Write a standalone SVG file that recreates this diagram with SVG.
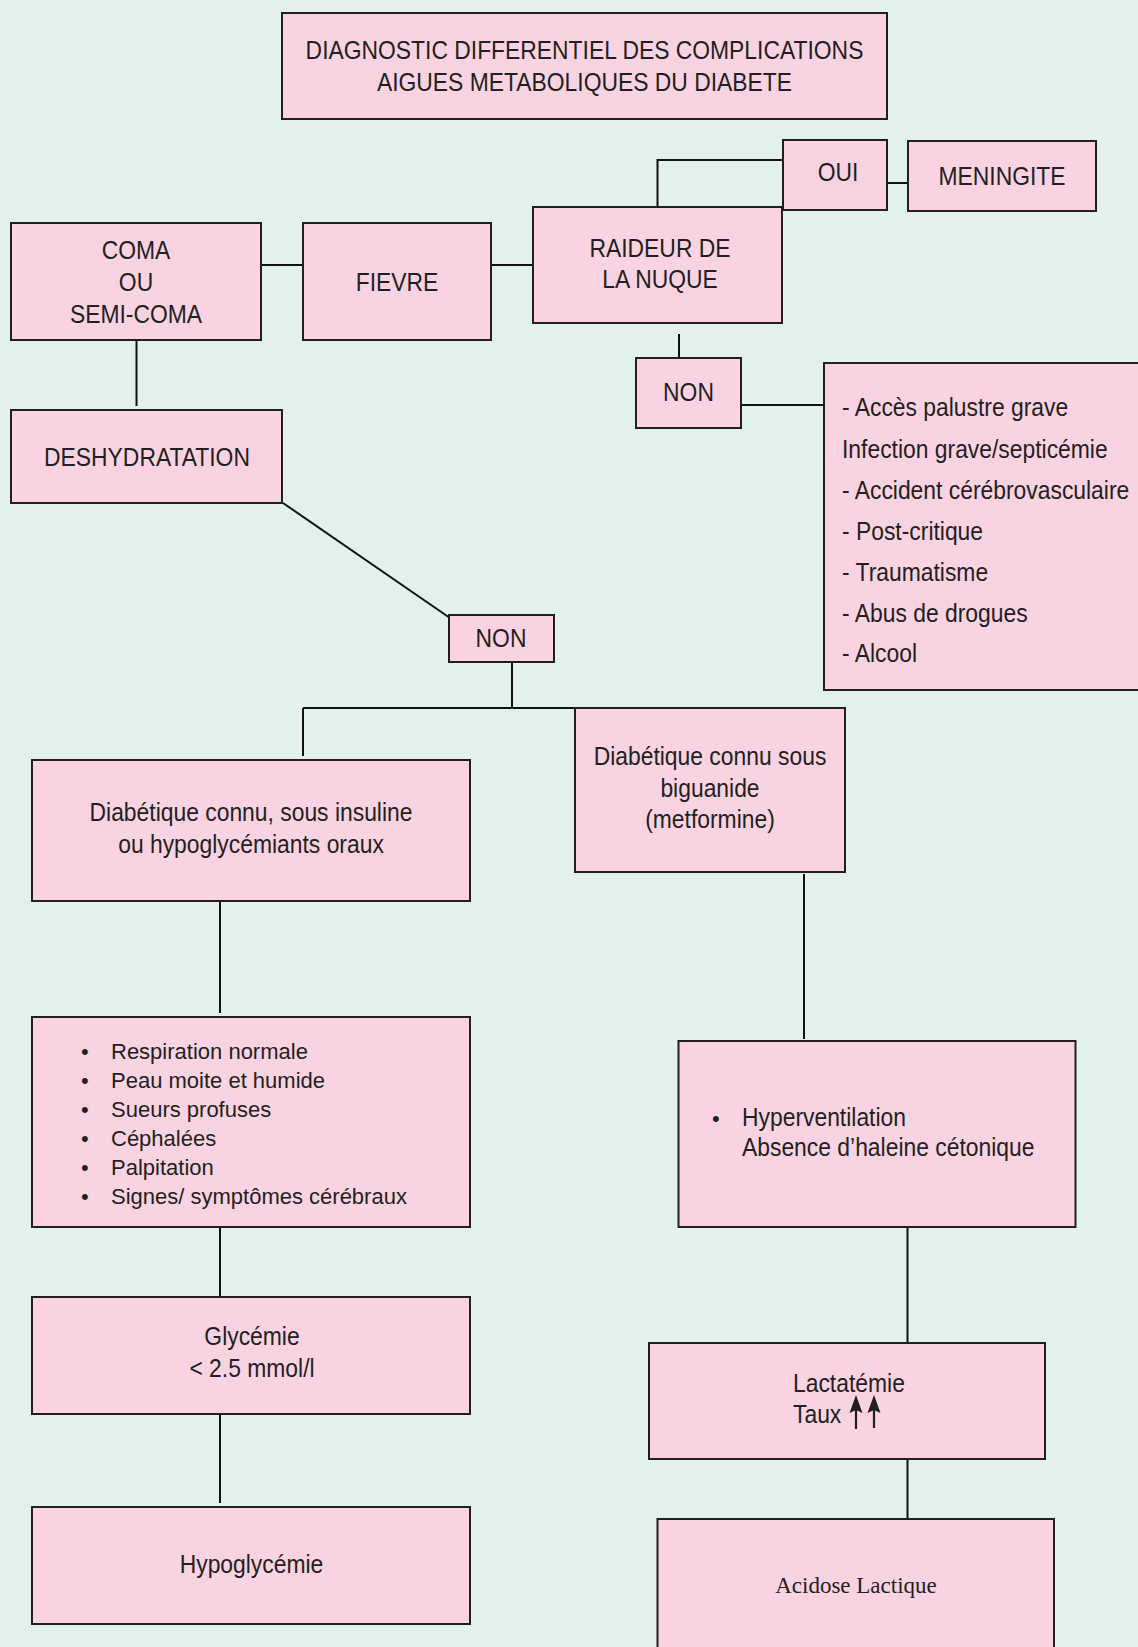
<svg xmlns="http://www.w3.org/2000/svg" width="1138" height="1647" viewBox="0 0 1138 1647">
<style>
.bg{fill:#e2f1ea}
.box{fill:#f9d3e2;stroke:#231f20;stroke-width:2}
.ln{stroke:#111;stroke-width:2;fill:none}
.t{font-family:"Liberation Sans",Arial,Helvetica,sans-serif;font-size:25px;fill:#231f20}
.s{font-family:"Liberation Sans",Arial,Helvetica,sans-serif;font-size:22px;fill:#231f20}
.r{font-family:"Liberation Serif","Times New Roman",serif;font-size:23px;fill:#231f20}
.m{text-anchor:middle}
</style>
<rect class="bg" x="0" y="0" width="1138" height="1647"/>

<g id="connectors">
<path class="ln" d="M261 265H303"/>
<path class="ln" d="M491 265H533"/>
<path class="ln" d="M657.5 207V160H783"/>
<path class="ln" d="M887 183H908"/>
<path class="ln" d="M679 334V358"/>
<path class="ln" d="M741 405H824"/>
<path class="ln" d="M136.5 340V406"/>
<path class="ln" d="M283 503L450 618"/>
<path class="ln" d="M512 662V708"/>
<path class="ln" d="M303 708H575"/>
<path class="ln" d="M303 708V756"/>
<path class="ln" d="M220 896V1013"/>
<path class="ln" d="M804 874V1039"/>
<path class="ln" d="M220 1227V1297"/>
<path class="ln" d="M220 1409V1503"/>
<path class="ln" d="M907.5 1227V1343"/>
<path class="ln" d="M907.5 1459V1519"/>
</g>

<g id="title">
<rect class="box" x="282" y="13" width="605" height="106"/>
<text class="t m" transform="translate(584.5 0) scale(0.915 1)"><tspan x="0" y="59">DIAGNOSTIC DIFFERENTIEL DES COMPLICATIONS</tspan><tspan x="0" y="91">AIGUES METABOLIQUES DU DIABETE</tspan></text>
</g>

<g id="oui">
<rect class="box" x="783" y="140" width="104" height="70"/>
<text class="t m" transform="translate(838 0) scale(0.915 1)"><tspan x="0" y="181">OUI</tspan></text>
</g>

<g id="meningite">
<rect class="box" x="908" y="141" width="188" height="70"/>
<text class="t m" transform="translate(1002 0) scale(0.915 1)"><tspan x="0" y="185">MENINGITE</tspan></text>
</g>

<g id="coma">
<rect class="box" x="11" y="223" width="250" height="117"/>
<text class="t m" transform="translate(136 0) scale(0.915 1)"><tspan x="0" y="259">COMA</tspan><tspan x="0" y="291.5">OU</tspan><tspan x="0" y="323.5">SEMI-COMA</tspan></text>
</g>

<g id="fievre">
<rect class="box" x="303" y="223" width="188" height="117"/>
<text class="t m" transform="translate(397 0) scale(0.915 1)"><tspan x="0" y="291.5">FIEVRE</tspan></text>
</g>

<g id="raideur">
<rect class="box" x="533" y="207" width="249" height="116"/>
<text class="t m" transform="translate(660 0) scale(0.915 1)"><tspan x="0" y="257">RAIDEUR DE</tspan><tspan x="0" y="288">LA NUQUE</tspan></text>
</g>

<g id="non1">
<rect class="box" x="636" y="358" width="105" height="70"/>
<text class="t m" transform="translate(688.5 0) scale(0.915 1)"><tspan x="0" y="401">NON</tspan></text>
</g>

<g id="causes">
<rect class="box" x="824" y="363" width="320" height="327"/>
<text class="t" transform="translate(842 0) scale(0.915 1)"><tspan x="0" y="416.5">- Accès palustre grave</tspan><tspan x="0" y="458">Infection grave/septicémie</tspan><tspan x="0" y="499">- Accident cérébrovasculaire</tspan><tspan x="0" y="540">- Post-critique</tspan><tspan x="0" y="581">- Traumatisme</tspan><tspan x="0" y="622">- Abus de drogues</tspan><tspan x="0" y="662">- Alcool</tspan></text>
</g>

<g id="deshydratation">
<rect class="box" x="11" y="410" width="271" height="93"/>
<text class="t m" transform="translate(147 0) scale(0.915 1)"><tspan x="0" y="466.5">DESHYDRATATION</tspan></text>
</g>

<g id="non2">
<rect class="box" x="449" y="615" width="105" height="47"/>
<text class="t m" transform="translate(501 0) scale(0.915 1)"><tspan x="0" y="647">NON</tspan></text>
</g>

<g id="diab-insuline">
<rect class="box" x="32" y="760" width="438" height="141"/>
<text class="t m" transform="translate(251 0) scale(0.915 1)"><tspan x="0" y="821.5">Diabétique connu, sous insuline</tspan><tspan x="0" y="853.5">ou hypoglycémiants oraux</tspan></text>
</g>

<g id="diab-biguanide">
<rect class="box" x="575" y="708" width="270" height="164"/>
<text class="t m" transform="translate(710 0) scale(0.915 1)"><tspan x="0" y="765">Diabétique connu sous</tspan><tspan x="0" y="797">biguanide</tspan><tspan x="0" y="828">(metformine)</tspan></text>
</g>

<g id="symptomes">
<rect class="box" x="32" y="1017" width="438" height="210"/>
<text class="s"><tspan x="81" y="1059">•</tspan><tspan x="81" y="1088">•</tspan><tspan x="81" y="1117">•</tspan><tspan x="81" y="1146">•</tspan><tspan x="81" y="1175">•</tspan><tspan x="81" y="1204">•</tspan></text>
<text class="s"><tspan x="111" y="1059">Respiration normale</tspan><tspan x="111" y="1088">Peau moite et humide</tspan><tspan x="111" y="1117">Sueurs profuses</tspan><tspan x="111" y="1146">Céphalées</tspan><tspan x="111" y="1175">Palpitation</tspan><tspan x="111" y="1204">Signes/ symptômes cérébraux</tspan></text>
</g>

<g id="hyperventilation">
<rect class="box" x="678.5" y="1041" width="397" height="186"/>
<text class="s"><tspan x="712" y="1126">•</tspan></text>
<text class="t" transform="translate(742 0) scale(0.915 1)"><tspan x="0" y="1126">Hyperventilation</tspan><tspan x="0" y="1156">Absence d’haleine cétonique</tspan></text>
</g>

<g id="glycemie">
<rect class="box" x="32" y="1297" width="438" height="117"/>
<text class="t m" transform="translate(252 0) scale(0.915 1)"><tspan x="0" y="1345">Glycémie</tspan><tspan x="0" y="1377">&lt; 2.5 mmol/l</tspan></text>
</g>

<g id="hypoglycemie">
<rect class="box" x="32" y="1507" width="438" height="117"/>
<text class="t m" transform="translate(251.5 0) scale(0.915 1)"><tspan x="0" y="1573">Hypoglycémie</tspan></text>
</g>

<g id="lactatemie">
<rect class="box" x="649" y="1343" width="396" height="116"/>
<text class="t" transform="translate(793 0) scale(0.915 1)"><tspan x="0" y="1392">Lactatémie</tspan><tspan x="0" y="1423">Taux</tspan></text>
<path d="M856 1406V1429M874 1406V1428" stroke="#231f20" stroke-width="2.2" fill="none"/>
<path d="M849.5 1413L856 1395L862.5 1413L856 1410Z M867.5 1413L874 1395L880.5 1413L874 1410Z" fill="#231f20"/>
</g>

<g id="acidose">
<rect class="box" x="657.5" y="1519" width="396.5" height="150"/>
<text class="r m"><tspan x="856" y="1593">Acidose Lactique</tspan></text>
</g>
</svg>
